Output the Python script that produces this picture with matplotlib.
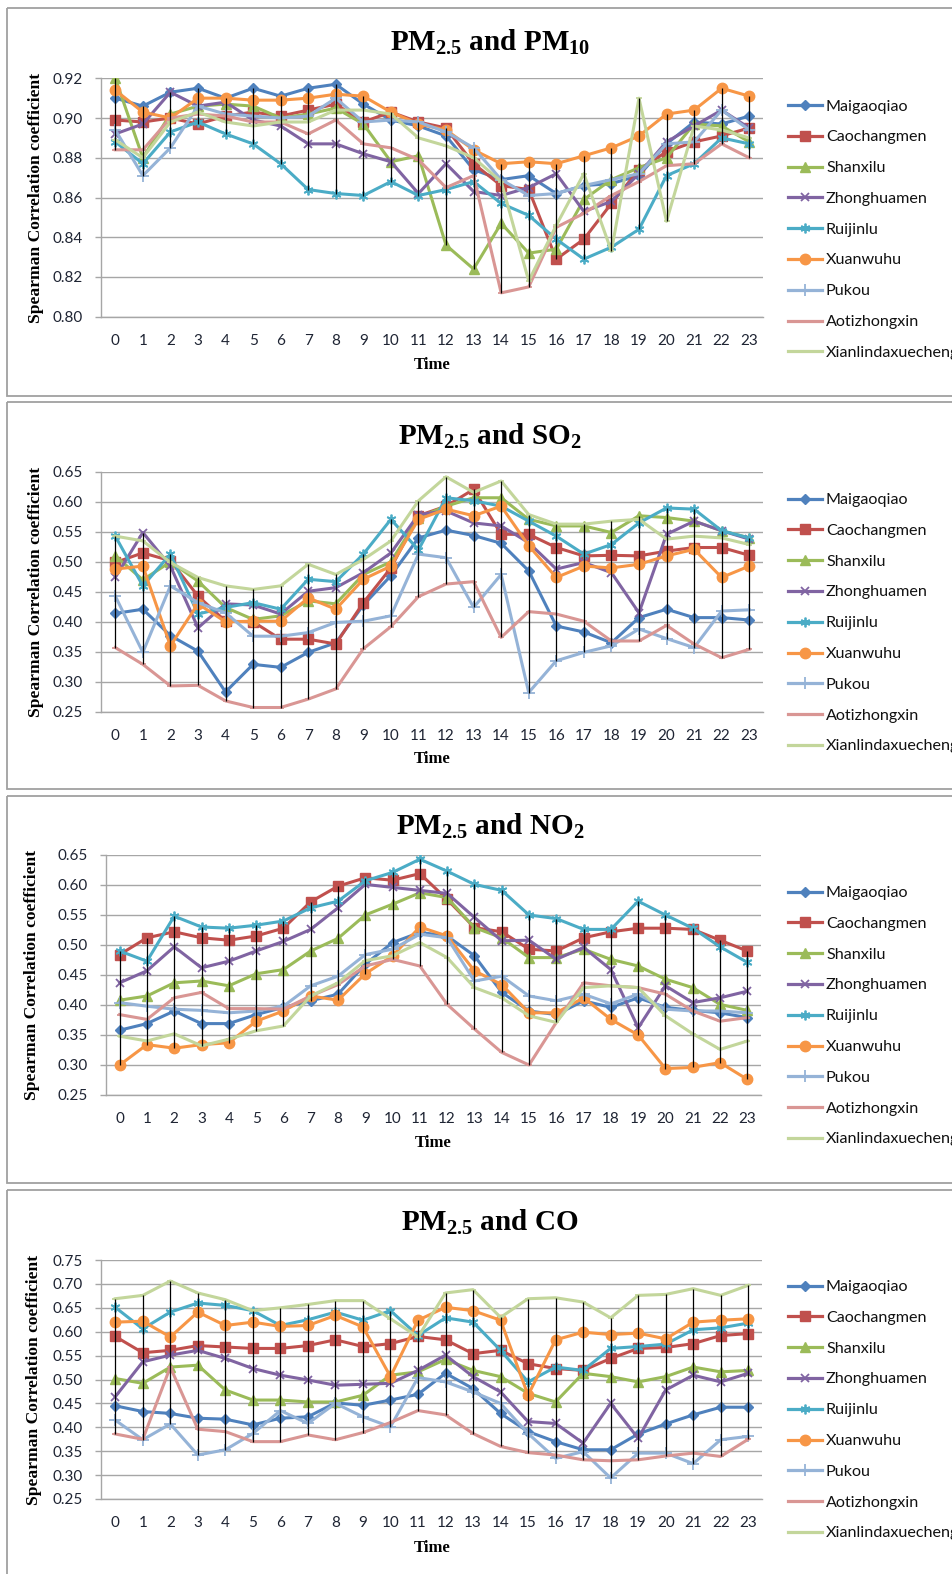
import matplotlib
matplotlib.use('Agg')
import matplotlib.pyplot as plt
import numpy as np
from matplotlib.lines import Line2D
from matplotlib.patches import Rectangle

# ---------------- data ----------------
hours = list(range(24))
stations = ['Maigaoqiao', 'Caochangmen', 'Shanxilu', 'Zhonghuamen', 'Ruijinlu',
            'Xuanwuhu', 'Pukou', 'Aotizhongxin', 'Xianlindaxuecheng']

# PM2.5 and PM10
pm10_mai = [0.910,0.906,0.913,0.915,0.910,0.915,0.911,0.915,0.917,0.907,0.899,0.896,0.891,0.874,0.869,0.871,0.862,0.866,0.867,0.871,0.887,0.898,0.897,0.901]
pm10_cao = [0.899,0.898,0.900,0.897,0.901,0.903,0.901,0.904,0.907,0.898,0.903,0.898,0.895,0.877,0.866,0.864,0.829,0.839,0.857,0.874,0.883,0.888,0.891,0.895]
pm10_shx = [0.920,0.880,0.902,0.906,0.907,0.906,0.900,0.902,0.905,0.897,0.878,0.881,0.836,0.824,0.847,0.832,0.834,0.859,0.869,0.875,0.880,0.897,0.896,0.888]
pm10_zhm = [0.892,0.897,0.913,0.906,0.908,0.899,0.896,0.887,0.887,0.882,0.878,0.862,0.877,0.863,0.861,0.865,0.872,0.853,0.858,0.872,0.888,0.896,0.904,0.895]
pm10_rjl = [0.888,0.877,0.893,0.898,0.892,0.887,0.877,0.864,0.862,0.861,0.868,0.861,0.864,0.868,0.857,0.851,0.839,0.829,0.835,0.844,0.871,0.877,0.890,0.887]
pm10_xwh = [0.914,0.903,0.900,0.910,0.910,0.909,0.909,0.910,0.912,0.911,0.903,0.897,0.894,0.884,0.877,0.878,0.877,0.881,0.885,0.891,0.902,0.904,0.915,0.911]
pm10_puk = [0.894,0.871,0.885,0.906,0.902,0.901,0.900,0.901,0.910,0.898,0.899,0.898,0.893,0.885,0.869,0.861,0.862,0.866,0.869,0.872,0.887,0.888,0.904,0.894]
pm10_aot = [0.884,0.884,0.900,0.902,0.901,0.898,0.898,0.892,0.899,0.887,0.885,0.879,0.865,0.871,0.812,0.815,0.845,0.852,0.861,0.868,0.876,0.877,0.887,0.880]
pm10_xld = [0.889,0.880,0.898,0.903,0.898,0.896,0.898,0.898,0.904,0.904,0.902,0.890,0.886,0.880,0.868,0.818,0.846,0.872,0.833,0.910,0.848,0.896,0.894,0.890]

# PM2.5 and SO2
so2_mai = [0.414,0.421,0.377,0.351,0.283,0.329,0.324,0.349,0.365,0.428,0.477,0.540,0.553,0.544,0.531,0.485,0.393,0.383,0.365,0.407,0.421,0.407,0.407,0.403]
so2_cao = [0.499,0.515,0.502,0.443,0.401,0.400,0.371,0.371,0.363,0.432,0.490,0.577,0.593,0.621,0.546,0.546,0.524,0.510,0.511,0.510,0.518,0.524,0.524,0.511]
so2_shx = [0.510,0.470,0.500,0.468,0.424,0.404,0.410,0.435,0.430,0.479,0.500,0.574,0.593,0.607,0.607,0.571,0.560,0.560,0.549,0.577,0.574,0.568,0.552,0.540]
so2_zhm = [0.474,0.549,0.493,0.390,0.430,0.428,0.413,0.451,0.457,0.482,0.515,0.579,0.585,0.565,0.560,0.532,0.488,0.499,0.482,0.415,0.546,0.568,0.552,0.538]
so2_rjl = [0.543,0.460,0.513,0.413,0.424,0.432,0.421,0.471,0.467,0.513,0.571,0.520,0.607,0.602,0.593,0.568,0.543,0.513,0.529,0.565,0.590,0.588,0.552,0.540]
so2_xwh = [0.488,0.493,0.360,0.430,0.400,0.401,0.401,0.440,0.421,0.471,0.493,0.571,0.588,0.577,0.593,0.527,0.474,0.493,0.490,0.496,0.510,0.521,0.474,0.493]
so2_puk = [0.443,0.349,0.460,0.432,0.415,0.376,0.376,0.382,0.399,0.401,0.410,0.513,0.507,0.424,0.479,0.282,0.335,0.349,0.360,0.388,0.372,0.357,0.418,0.420]
so2_aot = [0.357,0.329,0.293,0.294,0.268,0.257,0.257,0.271,0.288,0.355,0.392,0.442,0.463,0.467,0.374,0.417,0.413,0.401,0.368,0.368,0.394,0.363,0.340,0.354]
so2_xld = [0.543,0.535,0.499,0.474,0.460,0.454,0.460,0.496,0.479,0.504,0.535,0.602,0.642,0.616,0.635,0.579,0.563,0.563,0.568,0.571,0.538,0.543,0.540,0.529]

# PM2.5 and NO2
no2_mai = [0.358,0.369,0.390,0.369,0.369,0.384,0.396,0.407,0.418,0.468,0.504,0.521,0.515,0.482,0.421,0.390,0.384,0.407,0.396,0.412,0.396,0.391,0.387,0.379]
no2_cao = [0.484,0.512,0.522,0.512,0.508,0.515,0.528,0.572,0.598,0.612,0.608,0.619,0.576,0.529,0.522,0.493,0.490,0.512,0.522,0.528,0.528,0.526,0.508,0.490]
no2_shx = [0.408,0.415,0.437,0.440,0.432,0.452,0.459,0.490,0.511,0.550,0.568,0.587,0.579,0.529,0.512,0.479,0.479,0.493,0.476,0.465,0.443,0.429,0.401,0.391]
no2_zhm = [0.437,0.457,0.497,0.462,0.473,0.490,0.506,0.526,0.562,0.601,0.596,0.591,0.586,0.546,0.507,0.508,0.476,0.496,0.459,0.362,0.432,0.404,0.412,0.423]
no2_rjl = [0.490,0.473,0.548,0.530,0.528,0.533,0.540,0.562,0.573,0.607,0.621,0.643,0.623,0.601,0.591,0.550,0.544,0.526,0.526,0.573,0.550,0.528,0.497,0.471]
no2_xwh = [0.300,0.334,0.328,0.334,0.337,0.373,0.390,0.415,0.408,0.452,0.482,0.530,0.515,0.457,0.434,0.387,0.387,0.412,0.376,0.350,0.294,0.296,0.304,0.276]
no2_puk = [0.404,0.398,0.393,0.391,0.387,0.390,0.398,0.432,0.448,0.484,0.493,0.518,0.512,0.440,0.448,0.415,0.407,0.418,0.402,0.418,0.393,0.390,0.390,0.387]
no2_aot = [0.384,0.376,0.412,0.421,0.394,0.394,0.393,0.415,0.434,0.465,0.476,0.465,0.401,0.360,0.321,0.300,0.371,0.437,0.432,0.429,0.418,0.390,0.373,0.379]
no2_xld = [0.348,0.340,0.352,0.332,0.343,0.357,0.365,0.415,0.437,0.474,0.482,0.504,0.479,0.429,0.412,0.382,0.371,0.429,0.432,0.429,0.382,0.352,0.326,0.340]

# PM2.5 and CO
co_mai = [0.445,0.433,0.429,0.419,0.417,0.405,0.419,0.422,0.451,0.446,0.457,0.469,0.513,0.481,0.429,0.391,0.370,0.353,0.353,0.386,0.407,0.426,0.442,0.442]
co_cao = [0.590,0.556,0.561,0.571,0.568,0.565,0.565,0.571,0.583,0.569,0.575,0.590,0.583,0.554,0.561,0.533,0.523,0.519,0.544,0.565,0.567,0.575,0.592,0.596]
co_shx = [0.502,0.492,0.526,0.530,0.478,0.457,0.457,0.453,0.453,0.467,0.509,0.516,0.542,0.519,0.506,0.471,0.453,0.513,0.506,0.495,0.506,0.526,0.516,0.519]
co_zhm = [0.464,0.537,0.551,0.561,0.544,0.523,0.509,0.499,0.488,0.490,0.492,0.519,0.551,0.506,0.474,0.412,0.408,0.367,0.450,0.377,0.478,0.509,0.495,0.513]
co_rjl = [0.651,0.606,0.641,0.660,0.655,0.644,0.613,0.625,0.641,0.624,0.644,0.592,0.629,0.620,0.561,0.495,0.526,0.519,0.565,0.569,0.574,0.604,0.608,0.618]
co_xwh = [0.620,0.622,0.589,0.641,0.613,0.620,0.611,0.613,0.634,0.610,0.506,0.624,0.651,0.644,0.624,0.467,0.583,0.599,0.594,0.597,0.585,0.620,0.624,0.627]
co_puk = [0.415,0.374,0.407,0.342,0.353,0.387,0.435,0.408,0.450,0.422,0.401,0.504,0.495,0.474,0.450,0.387,0.335,0.349,0.294,0.346,0.346,0.324,0.374,0.381]
co_aot = [0.386,0.375,0.526,0.396,0.391,0.370,0.370,0.384,0.374,0.389,0.410,0.435,0.426,0.387,0.360,0.347,0.342,0.332,0.330,0.332,0.340,0.346,0.339,0.375]
co_xld = [0.669,0.676,0.706,0.681,0.667,0.644,0.650,0.657,0.665,0.665,0.627,0.589,0.681,0.688,0.630,0.669,0.671,0.662,0.629,0.676,0.678,0.690,0.676,0.697]

panel_titles = [r'PM$_{2.5}$ and PM$_{10}$', r'PM$_{2.5}$ and SO$_{2}$',
                r'PM$_{2.5}$ and NO$_{2}$', r'PM$_{2.5}$ and CO']
panel_series = [
    [pm10_mai, pm10_cao, pm10_shx, pm10_zhm, pm10_rjl, pm10_xwh, pm10_puk, pm10_aot, pm10_xld],
    [so2_mai, so2_cao, so2_shx, so2_zhm, so2_rjl, so2_xwh, so2_puk, so2_aot, so2_xld],
    [no2_mai, no2_cao, no2_shx, no2_zhm, no2_rjl, no2_xwh, no2_puk, no2_aot, no2_xld],
    [co_mai, co_cao, co_shx, co_zhm, co_rjl, co_xwh, co_puk, co_aot, co_xld],
]
y_ranges = [(0.80, 0.92, 0.02), (0.25, 0.65, 0.05), (0.25, 0.65, 0.05), (0.25, 0.75, 0.05)]

# ---------------- styles ----------------
colors = ['#4F81BD', '#C0504D', '#9BBB59', '#8064A2', '#4BACC6',
          '#F79646', '#95B3D7', '#D99694', '#C3D69B']
markers = ['D', 's', '^', 'x', (6, 2, 0), 'o', '+', '_', '_']
msizes = [5, 6.5, 7, 6, 7, 7.5, 8, 5, 5]

W, H = 953, 1574
plt.rcParams['mathtext.default'] = 'regular'
fig = plt.figure(figsize=(W / 100, H / 100), dpi=100)

# layout in pixels: (left, top, right, bottom)
axes_px = [(101.5, 78.3, 763, 316.7), (101.5, 472, 763, 711.7),
           (106, 855, 761, 1095), (101.5, 1260, 762, 1499)]
box_px = [(7, 8, 396), (7, 402, 789), (7, 796, 1183), (7, 1190, 1620)]
title_base = [51, 445, 835, 1231]
time_y = [365, 759, 1143, 1548]
ylab_x = [36, 36, 32, 34]
legend_y0 = [106.5, 500, 893, 1287]

GRID = '#A6A6A6'
TXT = '#1E2433'

ov = fig.add_axes([0, 0, 1, 1], zorder=10)
ov.set_xlim(0, W)
ov.set_ylim(H, 0)
ov.axis('off')
ov.patch.set_alpha(0)

for p in range(4):
    l, t, r, b = axes_px[p]
    ax = fig.add_axes([l / W, 1 - b / H, (r - l) / W, (b - t) / H])
    lo, hi, step = y_ranges[p]
    series = panel_series[p]
    for k, vals in enumerate(series):
        mk = markers[k]
        ax.plot(hours, vals, color=colors[k], lw=2.2, marker=mk, ms=msizes[k],
                mfc=colors[k], mec=colors[k],
                mew=1.3 if mk in ('x', '+', '_') or isinstance(mk, tuple) else 1.0,
                zorder=2 + k * 0.01, solid_joinstyle='round')
    arr = np.array(series)
    ax.vlines(hours, arr.min(axis=0), arr.max(axis=0), color='black', lw=0.9, zorder=3)
    ax.set_xlim(-0.5, 23.5)
    ax.set_ylim(lo, hi)
    ticks = np.arange(lo, hi + step / 2, step)
    ax.set_yticks(ticks)
    ax.set_yticklabels([f'{v:.2f}' for v in ticks])
    ax.set_xticks(hours)
    ax.set_xticklabels([str(h) for h in hours])
    ax.yaxis.grid(True, color=GRID, lw=1.0)
    ax.set_axisbelow(True)
    for s in ('top', 'right'):
        ax.spines[s].set_visible(False)
    for s in ('left', 'bottom'):
        ax.spines[s].set_color(GRID)
        ax.spines[s].set_linewidth(1.0)
    ax.tick_params(axis='x', length=0, pad=12.3, labelsize=11, labelcolor=TXT)
    ax.tick_params(axis='y', length=4, width=1.0, color=GRID, direction='out',
                   pad=9.3, labelsize=11, labelcolor=TXT)
    for lab in ax.get_xticklabels() + ax.get_yticklabels():
        lab.set_family('Lato')
    ax.patch.set_alpha(0)

    # panel frame
    bx, bt, bb = box_px[p]
    ov.add_patch(Rectangle((bx, bt), 1200, bb - bt, fill=False, ec='#A0A0A0', lw=1.3,
                           clip_on=False))
    # title
    ov.text(490, title_base[p], panel_titles[p], ha='center', va='baseline',
            family='Liberation Serif', weight='bold', size=21, color='black')
    # axis titles
    ov.text((l + r) / 2, time_y[p], 'Time', ha='center', va='center',
            family='Liberation Serif', weight='bold', size=12, color='black')
    ov.text(ylab_x[p], (t + b) / 2, 'Spearman Correlation coefficient', rotation=90,
            ha='center', va='center', family='Liberation Serif', weight='bold',
            size=12.6, color='black')
    # legend
    for k, name in enumerate(stations):
        y = legend_y0[p] + k * 30.8
        ov.add_line(Line2D([788, 822], [y - 1.5, y - 1.5], color=colors[k], lw=2.3))
        mk = markers[k]
        if mk != '_':
            ov.add_line(Line2D([805], [y - 1.5], color=colors[k], marker=mk, ms=msizes[k],
                               mfc=colors[k], mec=colors[k],
                               mew=1.3 if mk in ('x', '+') or isinstance(mk, tuple) else 1.0))
        ov.text(826, y, name, ha='left', va='center', family='Lato', size=11.6,
                color='#111111')

fig.savefig('out.png', dpi=100)
